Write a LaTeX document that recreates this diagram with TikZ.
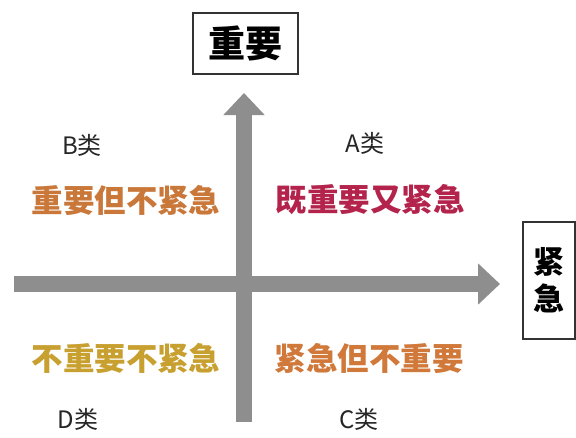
\documentclass[tikz,border=0pt]{standalone}
\usepackage{fontspec}
\setmainfont{Noto Sans CJK SC}
\usetikzlibrary{arrows.meta}
\definecolor{axisgray}{HTML}{8E8E8E}
\definecolor{cB}{HTML}{C9783A}
\definecolor{cA}{HTML}{B3234B}
\definecolor{cD}{HTML}{C8A030}
\definecolor{cC}{HTML}{D0793A}
\begin{document}
\begin{tikzpicture}[x=1pt,y=-1pt,
  axis/.style={draw=axisgray,line width=16.5pt,-{Triangle[width=40pt,length=22pt]}},
  labelbox/.style={draw=black!80,line width=1.6pt,fill=white,inner sep=0pt,font=\fontsize{37}{39}\selectfont\bfseries},
  cls/.style={font=\fontsize{24}{26}\selectfont,text=black!85,inner sep=0pt},
  quad/.style={font=\fontsize{31.5}{33}\selectfont\bfseries,inner sep=0pt}]
\useasboundingbox (0,0) rectangle (576,437);
\fill[white] (0,0) rectangle (576,437);
\coordinate (vstart) at (244,422);
\coordinate (vend) at (244,93);
\coordinate (hstart) at (14,284);
\coordinate (hend) at (500,284);
\draw[axis] (hstart) -- (hend);
\draw[axis] (vstart) -- (vend);
\node[labelbox,minimum width=105pt,minimum height=61pt] (imp) at (245.5,43.5) {重要};
\node[labelbox,minimum width=52pt,minimum height=117pt,align=center,font=\fontsize{31}{37}\selectfont\bfseries] (urg) at (549,280.5) {紧\\急};
\node[cls] (B) at (82,145) {B类};
\node[cls] (A) at (365,143) {A类};
\node[cls] (D) at (78,419) {D类};
\node[cls] (C) at (359,419) {C类};
\node[quad,text=cB] (qB) at (126,200) {重要但不紧急};
\node[quad,text=cA] (qA) at (370,200) {既重要又紧急};
\node[quad,text=cD] (qD) at (126,358) {不重要不紧急};
\node[quad,text=cC] (qC) at (369,358) {紧急但不重要};
\end{tikzpicture}
\end{document}
